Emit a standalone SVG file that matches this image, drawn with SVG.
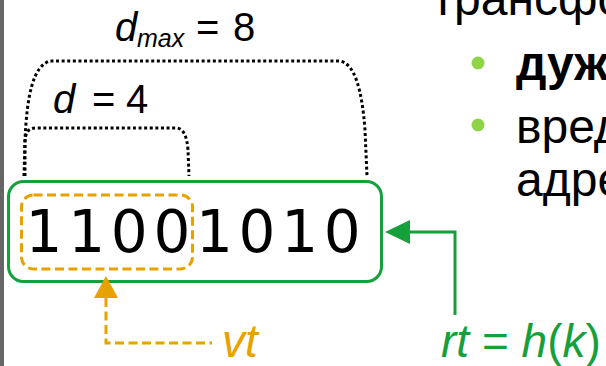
<svg xmlns="http://www.w3.org/2000/svg" width="606" height="366" viewBox="0 0 606 366">
<style>
.dot{fill:none;stroke:#000;stroke-width:3;stroke-dasharray:3 2.6}
.lbl{font-family:"Liberation Sans",Arial,sans-serif;font-style:italic;fill:#000}
.up{font-family:"Liberation Sans",Arial,sans-serif;font-style:normal}
.rt{font-family:"Liberation Sans",Arial,sans-serif;font-size:48px;fill:#000}
.org{stroke:#e8a200;stroke-width:3;fill:none;stroke-dasharray:9 4.5}
.grn{stroke:#16a03c;stroke-width:3;fill:none}
</style>
<rect x="0" y="0" width="606" height="366" fill="#fff"/>
<rect x="0" y="0" width="4" height="366" fill="#666"/>
<g id="bracket-dmax">
<path class="dot" d="M24 176 L25 140 C27 95 33 66 50 61 L340 61 C355 64 362 90 365 130 L367 176"/>
<text class="lbl" font-size="40" y="41"><tspan x="115">d</tspan><tspan x="137" dy="6" font-size="25">max</tspan><tspan class="up" x="196" dy="-6">=</tspan><tspan class="up" x="233">8</tspan></text>
</g>
<g id="bracket-d">
<path class="dot" d="M25 176 L25 143 C25 133 28 128 36 128 L177 128 C184 129 187 137 188 150 L189 176"/>
<text class="lbl" font-size="40" y="113"><tspan x="53">d</tspan><tspan class="up" x="92">=</tspan><tspan class="up" x="126">4</tspan></text>
</g>
<g id="register">
<rect class="grn" x="8.5" y="181.5" width="373" height="100" rx="15"/>
<text font-family="DejaVu Sans,sans-serif" font-size="58" y="252" fill="#000" x="25.6 68.2 110.8 153.4 196 238.6 281.2 323.8">11001010</text>
</g>
<g id="vt-box">
<rect class="org" x="21.5" y="195" width="171" height="74" rx="12"/>
</g>
<g id="connectors">
<path class="org" d="M106 298 L106 343 L212 343"/>
<polygon points="106,276 94,298 118,298" fill="#e8a200"/>
<path class="grn" d="M455 315 L455 232 L408 232"/>
<polygon points="385,232 410,220 410,244" fill="#16a03c"/>
</g>
<g id="labels">
<text class="lbl" font-size="46" x="222" y="357" fill="#e8a200" style="fill:#e8a200">vt</text>
<text class="lbl" font-size="46" x="441" y="357" style="fill:#16a03c">rt<tspan class="up"> = </tspan>h<tspan class="up">(</tspan>k<tspan class="up">)</tspan></text>
</g>
<g id="side-text">
<text class="rt" x="432" y="15">трансфо</text>
<circle cx="478" cy="63" r="6.5" fill="#8fd446"/>
<text class="rt" x="516" y="80" font-weight="bold">дуж</text>
<circle cx="478" cy="125" r="6.5" fill="#8fd446"/>
<text class="rt" x="516" y="143">вред</text>
<text class="rt" x="516" y="196">адре</text>
</g>
</svg>
